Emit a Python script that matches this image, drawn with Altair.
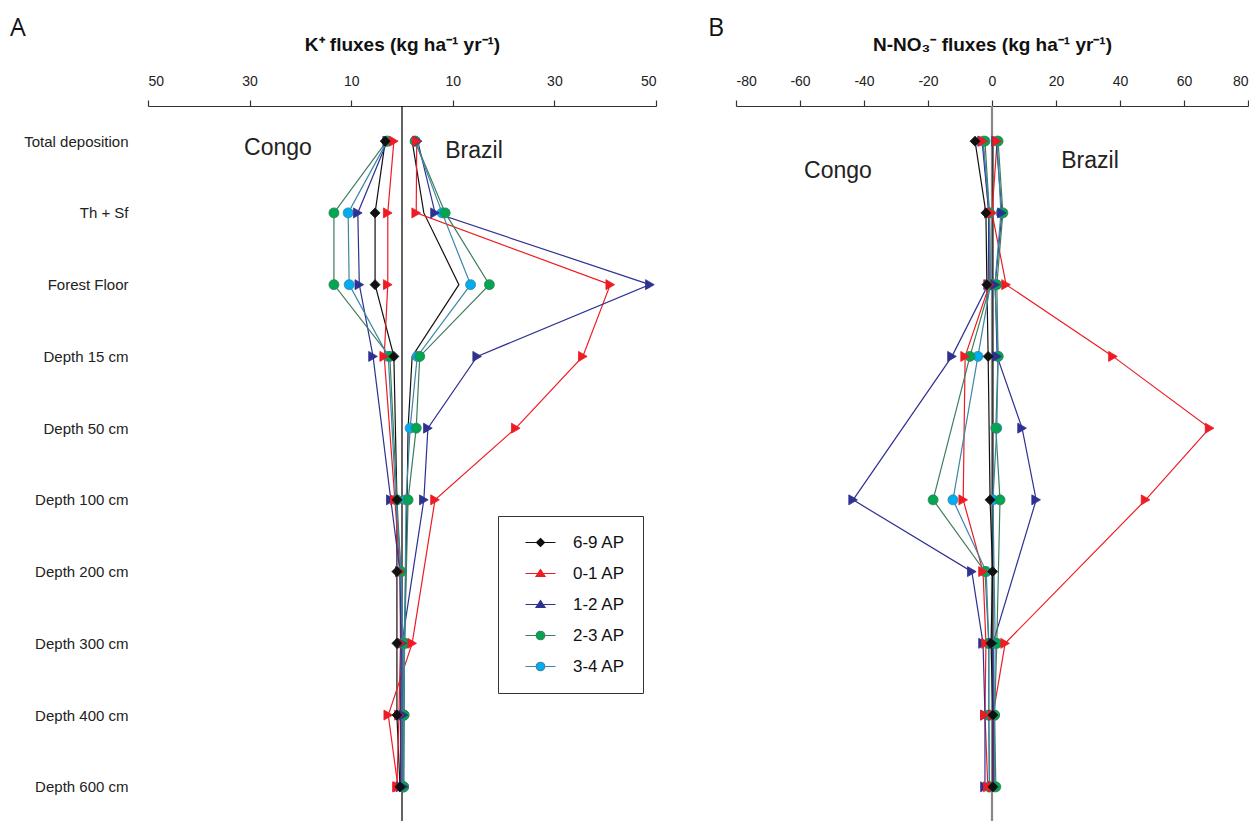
import altair as alt
import pandas as pd

ROWS = ["Total deposition", "Th + Sf", "Forest Floor", "Depth 15 cm", "Depth 50 cm",
        "Depth 100 cm", "Depth 200 cm", "Depth 300 cm", "Depth 400 cm", "Depth 600 cm"]
SERIES = ["6-9 AP", "0-1 AP", "1-2 AP", "2-3 AP", "3-4 AP"]
CONGO_ROWS = [r for r in ROWS if r != "Depth 50 cm"]
BRAZIL_ROWS = [r for r in ROWS if r != "Depth 200 cm"]

LINE_COLORS = ["#111111", "#ed1c24", "#2e3192", "#3f7d5c", "#3a86a6"]
MARKER_FILLS = ["#111111", "#ed1c24", "#2e3192", "#00a651", "#00aeef"]
PLOT_SHAPES = ["diamond", "triangle-right", "triangle-right", "circle", "circle"]
LEGEND_SHAPES = [
    "M-3,0L-0.8,0M0.8,0L3,0M0,-0.8L0.8,0L0,0.8L-0.8,0Z",
    "M-3,0L-0.5,0M0.5,0L3,0M0,-0.8L0.9,0.6L-0.9,0.6Z",
    "M-3,0L-0.5,0M0.5,0L3,0M0,-0.8L0.9,0.6L-0.9,0.6Z",
    "M-3,0L-0.85,0M0.85,0L3,0M-0.85,0A0.85,0.85 0 1,0 0.85,0A0.85,0.85 0 1,0 -0.85,0Z",
    "M-3,0L-0.85,0M0.85,0L3,0M-0.85,0A0.85,0.85 0 1,0 0.85,0A0.85,0.85 0 1,0 -0.85,0Z",
]

# ---- Panel A: K+ fluxes (Congo drawn to the left as negative values) ----
k_congo_69 = [-3.3, -5.3, -5.3, -1.6, -1.0, -1.0, -1.0, -1.0, -0.4]
k_congo_01 = [-1.6, -2.8, -2.8, -3.5, -1.4, -0.4, -0.3, -0.6, -1.0]
k_congo_12 = [-2.9, -8.7, -8.4, -5.7, -2.2, -0.4, -0.2, -0.3, -0.3]
k_congo_23 = [-3.0, -13.4, -13.4, -2.4, -1.0, -0.2, 0.2, 0.2, 0.3]
k_congo_34 = [-2.9, -10.6, -10.4, -2.7, -1.2, -0.2, 0.2, 0.3, 0.2]

k_brazil_69 = [2.0, 4.3, 11.2, 2.0, 1.2, 1.0, 0.5, 0.3, 0.3]
k_brazil_01 = [2.9, 2.8, 41.0, 35.6, 22.4, 6.5, 2.0, -2.7, -0.8]
k_brazil_12 = [3.1, 6.5, 48.8, 14.8, 5.1, 4.3, 0.0, 0.3, 0.3]
k_brazil_23 = [2.6, 8.5, 17.2, 3.5, 2.8, 1.2, 0.5, 0.4, 0.3]
k_brazil_34 = [2.6, 7.9, 13.5, 3.0, 1.6, 0.8, 0.5, 0.4, 0.3]

# ---- Panel B: N-NO3- fluxes ----
n_congo_69 = [-5.3, -1.9, -1.6, -1.2, -0.6, 0.2, -0.3, 0.3, 0.3]
n_congo_01 = [-2.8, -1.0, -0.8, -8.4, -9.0, -2.8, -1.9, -2.2, -1.3]
n_congo_12 = [-3.1, -1.0, -1.2, -12.5, -43.4, -6.3, -2.8, -2.2, -2.2]
n_congo_23 = [-2.2, -0.8, -0.5, -6.9, -18.4, -2.2, -1.0, -1.0, -0.8]
n_congo_34 = [-2.8, -0.8, -0.5, -4.4, -12.2, -1.8, -1.0, -1.0, -0.8]

n_brazil_69 = [0.3, 0.3, 0.3, 0.3, 0.3, 0.3, 0.3, 0.3, 0.3]
n_brazil_01 = [1.6, 0.0, 4.4, 37.8, 68.0, 48.0, 4.1, 0.3, 0.3]
n_brazil_12 = [1.3, 3.1, 1.0, 1.6, 9.4, 13.8, 0.3, 0.3, 0.3]
n_brazil_23 = [1.9, 3.4, 1.5, 1.9, 1.2, 2.5, 1.5, 0.8, 1.2]
n_brazil_34 = [1.6, 2.8, 0.9, 1.9, 1.5, 0.3, 1.0, 0.8, 0.8]

recs = []


def add(panel, country, ser, vals, marker=True):
    rows_ = CONGO_ROWS if country == "Congo" else BRAZIL_ROWS
    for r, v in zip(rows_, vals):
        recs.append(dict(panel=panel, country=country, series=ser, row=r,
                         idx=ROWS.index(r), value=v, key=country + ser, marker=marker,
                         z=len(SERIES) - SERIES.index(ser)))


for ser, cv, bv in zip(SERIES,
                       [k_congo_69, k_congo_01, k_congo_12, k_congo_23, k_congo_34],
                       [k_brazil_69, k_brazil_01, k_brazil_12, k_brazil_23, k_brazil_34]):
    add("A", "Congo", ser, cv)
    add("A", "Brazil", ser, bv, marker=(ser != "6-9 AP"))
for ser, cv, bv in zip(SERIES,
                       [n_congo_69, n_congo_01, n_congo_12, n_congo_23, n_congo_34],
                       [n_brazil_69, n_brazil_01, n_brazil_12, n_brazil_23, n_brazil_34]):
    add("B", "Congo", ser, cv)
    add("B", "Brazil", ser, bv, marker=(ser != "6-9 AP"))

df = pd.DataFrame(recs)
zero_df = pd.DataFrame({"value": [0.0]})

FONT = "Liberation Sans"
HEIGHT = 716


def panel(name, domain, ticks, title, label_expr, rule_color, rule_width, width,
          show_y, texts, letter, letter_x, with_legend):
    d = df[df.panel == name]
    xs = alt.X("value:Q",
               scale=alt.Scale(domain=domain, nice=False, zero=False),
               axis=alt.Axis(orient="top", values=ticks, labelExpr=label_expr, title=title,
                             grid=False, titleFont=FONT, titleFontSize=19, titleFontWeight="bold",
                             titleColor="#111", titlePadding=20, labelFont=FONT, labelFontSize=14,
                             labelColor="#222", labelPadding=12, tickSize=6, tickColor="#333",
                             domainColor="#333", domainWidth=1.2, tickWidth=1.2))
    if show_y:
        yaxis = alt.Axis(title=None, domain=False, ticks=False, tickSize=0, labelAlign="right",
                         labelPadding=20, labelFont=FONT, labelFontSize=15, labelColor="#222")
    else:
        yaxis = None
    ys = alt.Y("row:N", sort=ROWS,
               scale=alt.Scale(domain=ROWS, type="point", padding=0.49), axis=yaxis)

    rule = alt.Chart(zero_df).mark_rule(color=rule_color, strokeWidth=rule_width).encode(x=xs)

    lines = alt.Chart(d).mark_line(strokeWidth=1.2).encode(
        x=xs, y=ys,
        color=alt.Color("series:N", scale=alt.Scale(domain=SERIES, range=LINE_COLORS), legend=None),
        detail="key:N",
        order=alt.Order("idx:Q"),
    )
    pts = alt.Chart(d).transform_filter("datum.marker").mark_point(
        filled=True, size=100, strokeWidth=0.8, opacity=1).encode(
        x=xs, y=ys,
        fill=alt.Fill("series:N", scale=alt.Scale(domain=SERIES, range=MARKER_FILLS), legend=None),
        stroke=alt.Stroke("series:N", scale=alt.Scale(domain=SERIES, range=LINE_COLORS), legend=None),
        shape=alt.Shape("series:N", scale=alt.Scale(domain=SERIES, range=PLOT_SHAPES), legend=None),
        order=alt.Order("z:Q"),
    )
    layers = [rule, lines, pts]

    for txt, tx, ty in texts:
        layers.append(alt.Chart(zero_df).mark_text(
            text=txt, font=FONT, fontSize=23, color="#222", align="center", baseline="middle"
        ).encode(x=alt.value(tx), y=alt.value(ty)))
    layers.append(alt.Chart(zero_df).mark_text(
        text=letter, font="Open Sans", fontSize=25, color="#111", align="left", baseline="alphabetic"
    ).encode(x=alt.value(letter_x), y=alt.value(-70)))

    if with_legend:
        leg = alt.Legend(title=None, orient="none", legendX=350, legendY=410, strokeColor="#333",
                         padding=18, labelFont=FONT, labelFontSize=17, labelColor="#111",
                         rowPadding=13, symbolStrokeWidth=1.2, symbolOpacity=1,
                         labelOffset=24, symbolOffset=16)
        legend_layer = alt.Chart(d).transform_filter("datum.marker").mark_point(
            filled=True, size=178, opacity=0).encode(
            x=xs, y=ys,
            fill=alt.Fill("series:N", scale=alt.Scale(domain=SERIES, range=MARKER_FILLS), legend=leg),
            stroke=alt.Stroke("series:N", scale=alt.Scale(domain=SERIES, range=LINE_COLORS), legend=leg),
            shape=alt.Shape("series:N", scale=alt.Scale(domain=SERIES, range=LEGEND_SHAPES), legend=leg),
        )
        layers.append(legend_layer)

    ch = alt.layer(*layers).properties(width=width, height=HEIGHT)
    if with_legend:
        ch = ch.resolve_scale(shape="independent", fill="independent", stroke="independent").resolve_legend(
            shape="independent", fill="independent", stroke="independent")
    return ch


panel_a = panel("A", [-50, 50], [-50, -30, -10, 10, 30, 50],
                "K\u207a fluxes (kg ha\u207b\u00b9 yr\u207b\u00b9)",
                "'' + abs(datum.value)", "#111111", 1.3, 508, True,
                [("Congo", 130, 42), ("Brazil", 326, 45)], "A", -138, True)

panel_b = panel("B", [-80, 80], [-80, -60, -40, -20, 0, 20, 40, 60, 80],
                "N-NO\u2083\u207b fluxes (kg ha\u207b\u00b9 yr\u207b\u00b9)",
                "'' + datum.value", "#888888", 2.2, 512, False,
                [("Congo", 102, 65), ("Brazil", 354, 55)], "B", -28, False)

chart = alt.hconcat(panel_a, panel_b, spacing=80, bounds="flush").resolve_scale(
    x="independent", y="independent", fill="independent", stroke="independent",
    shape="independent", color="independent"
).resolve_legend(
    fill="independent", stroke="independent", shape="independent", color="independent"
).properties(
    padding={"left": 2, "top": 8, "right": 0, "bottom": 0}, background="white"
).configure_view(stroke=None)

chart.save("out.html", embed_options={"renderer": "svg", "actions": False})
